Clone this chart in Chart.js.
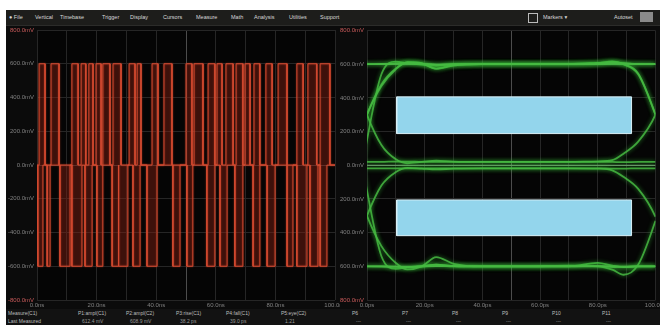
<!DOCTYPE html>
<html>
<head>
<meta charset="utf-8">
<script src="https://cdn.jsdelivr.net/npm/chart.js@4.4.1/dist/chart.umd.min.js"></script>
<style>
  html, body { margin: 0; padding: 0; background: #ffffff; }
  body { width: 660px; height: 325px; position: relative; overflow: hidden;
         font-family: "Liberation Sans", "DejaVu Sans", sans-serif; }
  #panel { position: absolute; left: 6px; top: 10px; width: 654px; height: 315px; background: #0c0c0c; }
  #toolbar { position: absolute; left: 6px; top: 10px; width: 654px; height: 15px; background: #1d1d1b;
             border-bottom: 1px solid #2c2c2a; }
  #toolbar span { position: absolute; top: 4px; font-size: 5.5px; color: #d8d8d8; white-space: nowrap; }
  #toolbar .box { position: absolute; top: 3px; width: 8px; height: 8px; border: 1px solid #bbb; }
  #toolbar .btn { position: absolute; top: 2px; width: 13px; height: 10px; background: #8a8a8a; }
  canvas { position: absolute; }
  #left  { left: 7px;   top: 26px; }
  #right { left: 340px; top: 26px; }
  #status { position: absolute; left: 6px; top: 309px; width: 654px; height: 16px; background: #121212; }
  #status span { position: absolute; font-size: 5px; color: #bdbdbd; white-space: nowrap; }
</style>
</head>
<body>
<div id="panel"></div>
<div id="toolbar"></div>
<canvas id="left" width="333" height="284"></canvas>
<canvas id="right" width="320" height="284"></canvas>
<div id="status"></div>
<script>
// ---- menu and status text ----
const menuItems = ["● File", "Vertical", "Timebase", "Trigger", "Display", "Cursors", "Measure", "Math", "Analysis", "Utilities", "Support"];
const measureNames = ["P1:ampl(C1)", "P2:ampl(C2)", "P3:rise(C1)", "P4:fall(C1)", "P5:eye(C2)", "P6", "P7", "P8", "P9", "P10", "P11"];
const measureValues = ["612.4 mV", "608.9 mV", "38.2 ps", "39.0 ps", "1.21", "---", "---", "---", "---", "---", "---"];

// ---- left trace: three-level pulse stream (time in ns, level in mV) ----
const highLevel = 600;
const lowLevel = -600;
const upperStart = [0.7, 4.7, 11.7, 14.8, 17.4, 19.8, 22.1, 25.5, 30.9, 33.6, 38.6, 42.6, 50.0, 52.7, 57.4, 60.4, 63.4, 66.8, 69.8, 72.8, 76.8, 80.9, 87.2, 90.9, 95.0];
const upperEnd   = [2.7, 7.4, 13.8, 16.4, 18.8, 21.5, 24.5, 28.2, 32.9, 34.9, 40.6, 45.3, 52.0, 55.7, 59.7, 62.1, 65.8, 69.1, 71.5, 74.8, 78.9, 83.9, 89.3, 93.9, 98.3];
const lowerStart = [0.3, 3.4, 7.7, 11.7, 16.1, 20.1, 25.2, 27.5, 32.2, 36.9, 45.6, 50.3, 57.0, 61.4, 66.4, 72.5, 77.2, 83.9, 87.2, 91.6, 95.0];
const lowerEnd   = [2.0, 4.4, 11.1, 15.1, 18.5, 22.1, 27.2, 30.5, 34.6, 40.3, 48.0, 52.3, 59.7, 63.8, 69.1, 74.8, 79.9, 85.9, 90.6, 94.3, 97.3];

// ---- right trace: eye diagram (time in ps, level in mV) ----
const eyeTime = [-4, 0, 5, 10, 14, 19, 24, 30, 40, 55, 70, 80, 85, 89, 94, 100, 104];
const eyeHighFlat   = [600, 600, 601, 604, 607, 603, 596, 598, 600, 600, 600, 602, 606, 604, 601, 600, 600];
const eyeRiseHigh   = [100, 300, 470, 570, 612, 606, 572, 592, 600, 600, 600, 603, 610, 606, 600, 600, 600];
const eyeHighFall   = [600, 600, 601, 603, 606, 602, 597, 600, 600, 600, 600, 606, 616, 600, 545, 300, 100];
const eyeHighPulse  = [100, 300, 480, 575, 610, 604, 575, 594, 600, 600, 601, 608, 612, 598, 540, 300, 100];
const eyeFullRise   = [-250, 150, 540, 615, 605, 598, 590, 598, 600, 600, 600, 600, 604, 602, 600, 600, 600];
const eyeMidFromHi  = [500, 300, 120, 35, 12, 20, 28, 22, 20, 20, 20, 22, 20, 18, 20, 20, 20];
const eyeMidFromLo  = [-500, -300, -120, -40, -15, -20, -25, -20, -18, -18, -18, -18, -20, -20, -18, -18, -18];
const eyeMidToHigh  = [20, 20, 20, 22, 22, 20, 20, 20, 20, 20, 20, 22, 30, 70, 140, 300, 500];
const eyeMidToLow   = [-18, -18, -18, -18, -18, -18, -18, -18, -18, -18, -18, -20, -30, -70, -140, -306, -500];
const eyeFallLow    = [-100, -300, -480, -580, -618, -600, -545, -585, -600, -600, -600, -598, -600, -605, -600, -600, -600];
const eyeLowRise    = [-600, -600, -600, -602, -605, -600, -590, -598, -600, -600, -596, -600, -620, -650, -590, -330, -120];
const eyeLowFlat    = [-600, -600, -601, -603, -606, -602, -598, -600, -600, -600, -600, -580, -596, -604, -600, -600, -600];
const eyeFullFall   = [250, -150, -540, -615, -605, -598, -590, -598, -600, -600, -600, -600, -604, -602, -600, -600, -600];
const railLevels = [600, 0, -600];

// eye mask windows
const maskTime = [10.3, 91.7];
const maskUpper = [188, 406];
const maskLower = [-418, -206];

// ---- text furniture ----
const tb = document.getElementById('toolbar');
const menuX = [3, 29, 54, 96, 124, 157, 190, 225, 248, 283, 314];
menuItems.forEach((m, i) => {
  const s = document.createElement('span');
  s.textContent = m; s.style.left = menuX[i] + 'px'; tb.appendChild(s);
});
tb.insertAdjacentHTML('beforeend',
  '<div class="box" style="left:522px"></div><span style="left:537px">Markers ▾</span>' +
  '<span style="left:608px">Autoset</span><div class="btn" style="left:634px"></div>');

const st = document.getElementById('status');
st.insertAdjacentHTML('beforeend', '<span style="left:2px;top:1px">Measure(C1)</span><span style="left:2px;top:9px">Last Measured</span>');
const measX = [72, 120, 170, 220, 275, 346, 396, 446, 496, 546, 596];
measureNames.forEach((m, i) => {
  st.insertAdjacentHTML('beforeend',
    '<span style="left:' + measX[i] + 'px;top:1px">' + m + '</span>' +
    '<span style="left:' + (measX[i] + 4) + 'px;top:9px;color:#9a9a9a">' + measureValues[i] + '</span>');
});

// ---- chart helpers ----
const scopeBg = {
  id: 'scopeBg',
  beforeDraw(chart, args, opts) {
    const { ctx, chartArea: a } = chart;
    ctx.save();
    ctx.fillStyle = opts.outer;
    ctx.fillRect(0, 0, chart.width, chart.height);
    ctx.fillStyle = opts.inner;
    ctx.fillRect(a.left, a.top, a.right - a.left, a.bottom - a.top);
    ctx.restore();
  }
};
const glow = {
  id: 'glow',
  beforeDatasetDraw(chart, args, opts) {
    const ds = chart.data.datasets[args.index];
    if (!ds.glow) return;
    chart.ctx.save();
    chart.ctx.shadowColor = ds.glow;
    chart.ctx.shadowBlur = opts.blur;
  },
  afterDatasetDraw(chart, args) {
    if (chart.data.datasets[args.index].glow) chart.ctx.restore();
  }
};

function pulseTrace(starts, ends, level) {
  const pts = [{ x: 0, y: 0 }];
  starts.forEach((s, i) => {
    pts.push({ x: s, y: 0 }, { x: s, y: level }, { x: ends[i], y: level }, { x: ends[i], y: 0 });
  });
  pts.push({ x: 100, y: 0 });
  return pts;
}
const tickFont = { family: 'Liberation Sans', size: 6 };
function noOverflow(s) {
  s.paddingTop = 0; s.paddingBottom = 0; s.paddingLeft = 0; s.paddingRight = 0;
}
function axes(yWidth, xUnit) {
  return {
    x: {
      type: 'linear', min: 0, max: 100,
      afterFit(s) { s.height = 10; noOverflow(s); },
      border: { display: false },
      grid: { color: c => c.tick && c.tick.value === 50 ? '#4c4c4c' : '#262626', drawTicks: false, lineWidth: 1 },
      ticks: { stepSize: 10, autoSkip: false, maxRotation: 0, padding: 2, color: '#808080', font: tickFont,
               callback: v => v % 20 === 0 ? v.toFixed(1) + xUnit : '' }
    },
    y: {
      min: -800, max: 800,
      afterFit(s) { s.width = yWidth; noOverflow(s); },
      border: { display: false },
      grid: { color: c => c.tick && c.tick.value === 0 ? '#3e3e3e' : '#262626', drawTicks: false },
      ticks: { stepSize: 200, padding: 3, color: c => (Math.abs(c.tick.value) === 800 ? '#c85a5a' : '#808080'),
               font: tickFont, callback: v => v.toFixed(1) + 'mV' }
    }
  };
}
const common = {
  responsive: false, animation: false, events: [],
  elements: { point: { radius: 0 } },
};

// ---- left: time-domain pulse stream ----
new Chart(document.getElementById('left'), {
  type: 'line',
  data: {
    datasets: [
      { data: [{ x: -1.6, y: 0 }], pointRadius: 4, pointStyle: 'rect', pointBackgroundColor: '#ea6a2c',
        pointBorderWidth: 0, showLine: false, clip: false },
      { data: pulseTrace(upperStart, upperEnd, highLevel), borderColor: '#d44a30', borderWidth: 1,
        fill: 'origin', backgroundColor: 'rgba(130, 34, 20, 0.45)', tension: 0, glow: 'rgba(230,70,40,0.6)' },
      { data: pulseTrace(lowerStart, lowerEnd, lowLevel), borderColor: '#d44a30', borderWidth: 1,
        fill: 'origin', backgroundColor: 'rgba(130, 34, 20, 0.45)', tension: 0, glow: 'rgba(230,70,40,0.6)' }
    ]
  },
  options: Object.assign({}, common, {
    layout: { padding: { top: 2, right: 5, left: 0, bottom: 0 } },
    scales: axes(30, 'ns'),
    plugins: { legend: { display: false }, tooltip: { enabled: false },
               scopeBg: { outer: '#0b0b0b', inner: '#050505' }, glow: { blur: 2 } }
  }),
  plugins: [scopeBg, glow]
});

// ---- right: eye diagram with mask windows ----
const eyeColor = 'rgba(70, 185, 66, 0.85)';
const eyeTraces = [eyeHighFlat, eyeRiseHigh, eyeHighFall, eyeHighPulse, eyeFullRise, eyeMidFromHi, eyeMidFromLo,
                   eyeMidToHigh, eyeMidToLow, eyeFallLow, eyeLowRise, eyeLowFlat, eyeFullFall];
const maskSet = (lo, hi) => ({
  data: [{ x: maskTime[0], y: lo }, { x: maskTime[1], y: lo }, { x: maskTime[1], y: hi },
         { x: maskTime[0], y: hi }, { x: maskTime[0], y: lo }],
  fill: 'shape', backgroundColor: '#93d5ec', borderColor: '#d9f1f8', borderWidth: 1, tension: 0
});
new Chart(document.getElementById('right'), {
  type: 'line',
  data: {
    datasets: [
      maskSet(maskUpper[0], maskUpper[1]),
      maskSet(maskLower[0], maskLower[1]),
      { data: [{ x: -2.8, y: 0 }], pointRadius: 4.5, pointStyle: 'rect', pointBackgroundColor: '#3fbf3a',
        pointBorderWidth: 0, showLine: false, clip: false },
      ...eyeTraces.map(tr => ({
        data: eyeTime.map((t, i) => ({ x: t, y: tr[i] })),
        borderColor: eyeColor, borderWidth: 1.8, tension: 0.4, cubicInterpolationMode: 'monotone',
        fill: false, glow: 'rgba(60, 200, 60, 0.8)'
      })),
      ...railLevels.map(v => ({
        data: [{ x: 0, y: v }, { x: 100, y: v }], borderColor: 'rgba(150, 205, 150, 0.75)', borderWidth: 1, fill: false
      }))
    ]
  },
  options: Object.assign({}, common, {
    layout: { padding: { top: 2, right: 3, left: 0, bottom: 0 } },
    scales: axes(27, 'ps'),
    plugins: { legend: { display: false }, tooltip: { enabled: false },
               scopeBg: { outer: '#0b0b0b', inner: '#050505' }, glow: { blur: 4 } }
  }),
  plugins: [scopeBg, glow]
});
</script>
</body>
</html>
